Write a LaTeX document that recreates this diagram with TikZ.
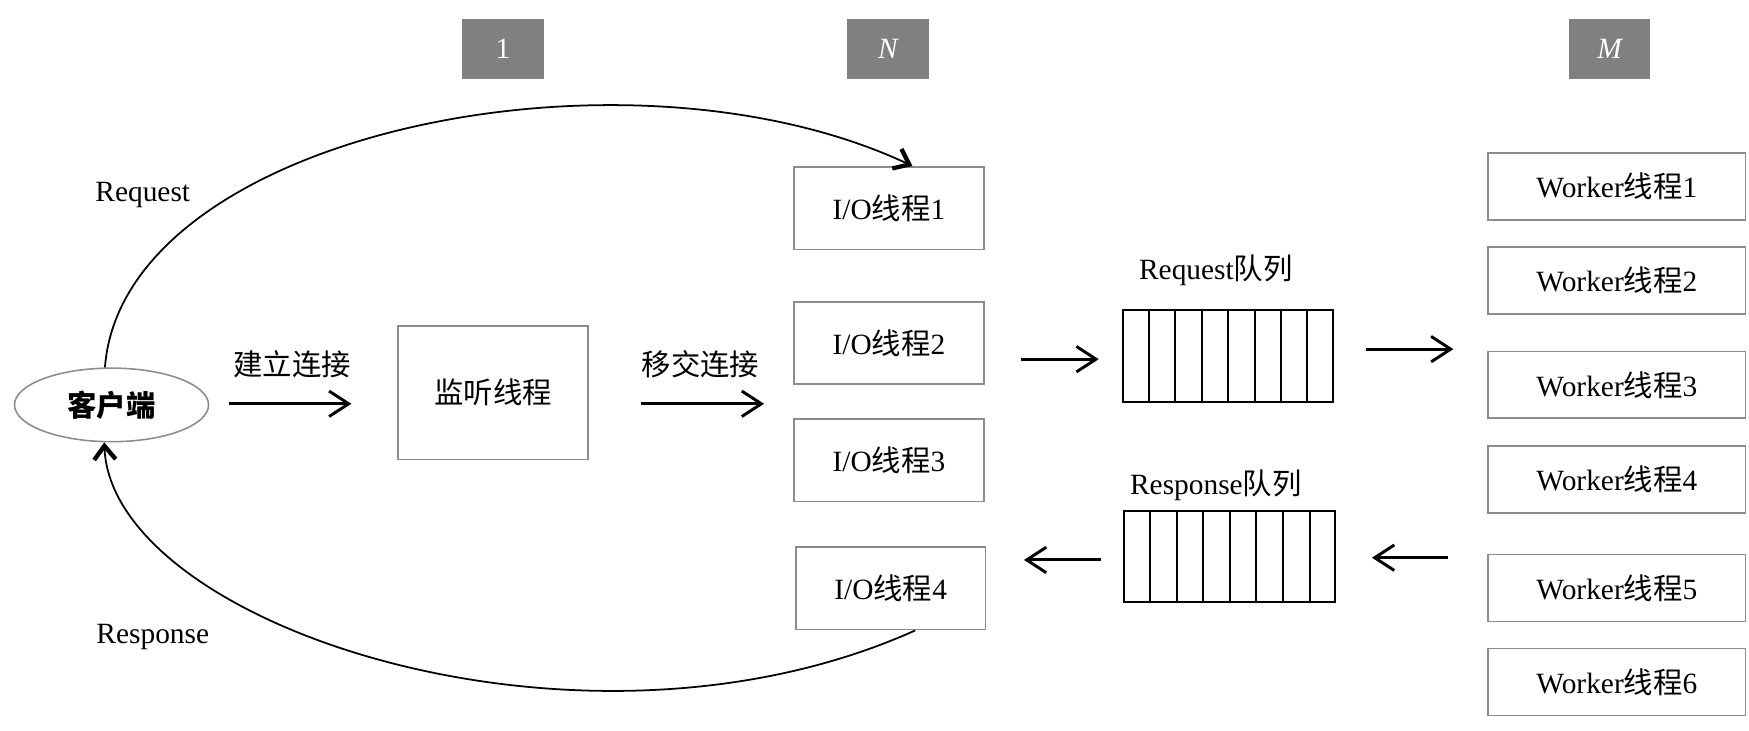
\documentclass[tikz,border=0pt]{standalone}
\usepackage{fontspec}
\setmainfont{Liberation Serif}
\newfontfamily\cjk{Noto Sans CJK SC}
\usetikzlibrary{arrows.meta,shapes.geometric,calc}
\definecolor{tagGray}{HTML}{808080}
\definecolor{boxGray}{HTML}{8C8C8C}
\begin{document}
\begin{tikzpicture}[x=0.02cm,y=-0.02cm,
  every node/.style={font=\fontsize{15pt}{18pt}\selectfont},
  tag/.style={fill=tagGray,text=white,minimum width=1.46cm,minimum height=1.08cm,inner sep=0pt},
  box/.style={draw=boxGray,line width=0.8pt,minimum width=3.4cm,minimum height=1.48cm,inner sep=0pt},
  wbox/.style={draw=boxGray,line width=0.8pt,minimum width=4.62cm,minimum height=1.2cm,inner sep=0pt},
  arr/.style={line width=1.5pt,-{Straight Barb[length=10pt,width=13pt,line width=1.5pt]}},
  curve/.style={line width=0.9pt,-{Straight Barb[length=7pt,width=11pt,line width=2.2pt]}},
  queue/.style={draw=black,line width=1pt},
  lbl/.style={inner sep=0pt}]
\useasboundingbox (0,0) rectangle (1568,655);
% tags
\node[tag] (t1) at (451,44) {1};
\node[tag] (tN) at (796,44) {\itshape N};
\node[tag] (tM) at (1443,44) {\itshape M};
% client
\node[draw=boxGray,line width=0.8pt,ellipse,minimum width=3.48cm,minimum height=1.32cm,inner sep=0pt] (client) at (100,363) {\cjk\bfseries 客户端};
% listener
\node[box,minimum width=3.4cm,minimum height=2.4cm] (listen) at (442,352) {\cjk 监听线程};
% io boxes
\node[box] (io1) at (797,186.5) {I/O{\cjk 线程}1};
\node[box] (io2) at (797,307.5) {I/O{\cjk 线程}2};
\node[box] (io3) at (797,412.5) {I/O{\cjk 线程}3};
\node[box] (io4) at (798.5,527.5) {I/O{\cjk 线程}4};
% workers
\node[wbox] (w1) at (1449.5,167) {Worker{\cjk 线程}1};
\node[wbox] (w2) at (1449.5,251.5) {Worker{\cjk 线程}2};
\node[wbox] (w3) at (1449.5,345) {Worker{\cjk 线程}3};
\node[wbox] (w4) at (1449.5,430) {Worker{\cjk 线程}4};
\node[wbox] (w5) at (1449.5,527) {Worker{\cjk 线程}5};
\node[wbox] (w6) at (1449.5,611.5) {Worker{\cjk 线程}6};
% queues
\node[queue,minimum width=3.76cm,minimum height=1.64cm,inner sep=0pt] (rq) at (1101,319) {};
\foreach \i in {1,...,7} {\draw[line width=1pt] ($(rq.north west)!\i/8!(rq.north east)$) -- ($(rq.south west)!\i/8!(rq.south east)$);}
\node[queue,minimum width=3.78cm,minimum height=1.64cm,inner sep=0pt] (sq) at (1102.5,499) {};
\foreach \i in {1,...,7} {\draw[line width=1pt] ($(sq.north west)!\i/8!(sq.north east)$) -- ($(sq.south west)!\i/8!(sq.south east)$);}
\node[lbl] (rql) at (1090,242) {Request{\cjk 队列}};
\node[lbl] (sql) at (1090,435) {Response{\cjk 队列}};
% labels
\node[lbl] (reqlbl) at (128,175) {Request};
\node[lbl] (reslbl) at (137,571) {Response};
\node[lbl] (conn) at (262,327) {\cjk 建立连接};
\node[lbl] (hand) at (628,327) {\cjk 移交连接};
% straight arrows
\coordinate (a1s) at (205,362); \coordinate (a1e) at (315,362);
\coordinate (a2s) at (575,362); \coordinate (a2e) at (685,362);
\coordinate (a3s) at (915,322); \coordinate (a3e) at (985,322);
\coordinate (a4s) at (1225,313); \coordinate (a4e) at (1303,313);
\coordinate (a5s) at (1298,500); \coordinate (a5e) at (1230,500);
\coordinate (a6s) at (987,502); \coordinate (a6e) at (918,502);
\draw[arr] (a1s) -- (a1e);
\draw[arr] (a2s) -- (a2e);
\draw[arr] (a3s) -- (a3e);
\draw[arr] (a4s) -- (a4e);
\draw[arr] (a5s) -- (a5e);
\draw[arr] (a6s) -- (a6e);
% curves
\draw[curve] (client.100) .. controls (110,120) and (560,28) .. ([xshift=0.42cm]io1.north);
\draw[curve] ([xshift=0.44cm]io4.south) .. controls (520,700) and (100,560) .. (client.259);
\end{tikzpicture}
\end{document}
